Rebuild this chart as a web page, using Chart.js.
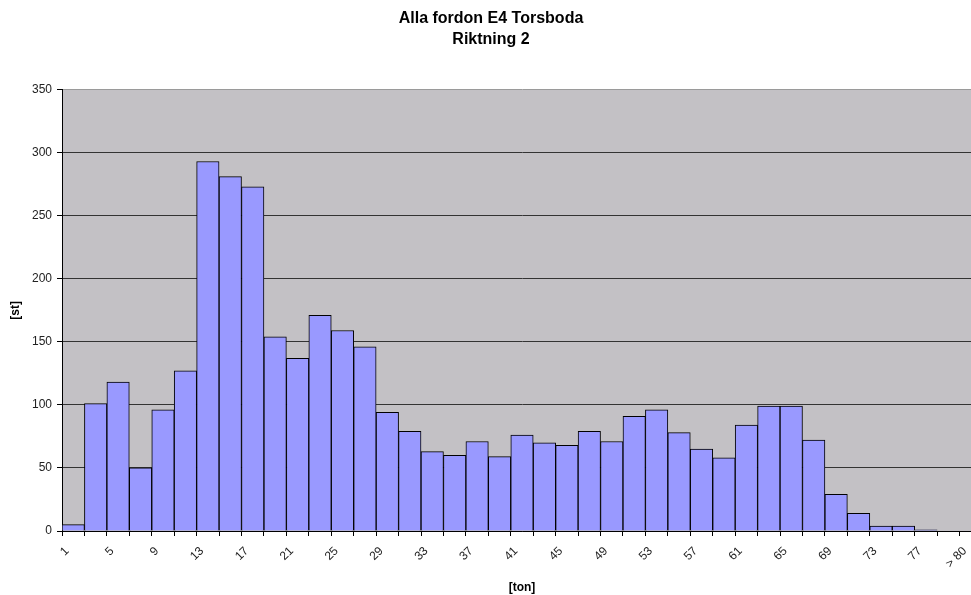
<!DOCTYPE html>
<html>
<head>
<meta charset="utf-8">
<title>Alla fordon E4 Torsboda</title>
<script src="https://cdn.jsdelivr.net/npm/chart.js@4/dist/chart.umd.min.js"></script>
<style>
    html, body { margin: 0; padding: 0; background: #ffffff; overflow: hidden; }
    #wrap { width: 985px; height: 595px; }
</style>
</head>
<body>
<div id="wrap"><canvas id="viktChart" width="985" height="595"></canvas></div>
<script>
// viktklasser (ton), varannan etikett visas
const klasser = ['1', '3', '5', '7', '9', '11', '13', '15', '17', '19', '21', '23', '25', '27', '29',
    '31', '33', '35', '37', '39', '41', '43', '45', '47', '49', '51', '53', '55', '57', '59',
    '61', '63', '65', '67', '69', '71', '73', '75', '77', '79', '> 80'];

// antal fordon per klass [st]
const antal = [5, 101, 118, 50, 96, 127, 293, 281, 273, 154, 137, 171, 159, 146, 94,
    79, 63, 60, 71, 59, 76, 70, 68, 79, 71, 91, 96, 78, 65, 58,
    84, 99, 99, 72, 29, 14, 4, 4, 1, 0, 0];

const titelRader = ['Alla fordon E4 Torsboda', 'Riktning 2'];
const yTitel = '[st]';
const xTitel = '[ton]';

// grå bakgrund i diagramytan
const plotBakgrund = {
    id: 'plotBakgrund',
    beforeDraw(chart) {
        const { ctx, chartArea } = chart;
        ctx.save();
        ctx.fillStyle = '#c3c1c5';
        ctx.fillRect(chartArea.left, chartArea.top, chartArea.right - chartArea.left, chartArea.bottom - chartArea.top);
        ctx.restore();
    }
};

new Chart(document.getElementById('viktChart').getContext('2d'), {
    type: 'bar',
    data: {
        labels: klasser,
        datasets: [{
            label: 'Antal',
            data: antal,
            backgroundColor: '#9999ff',
            borderColor: '#000000',
            borderWidth: 1,
            barPercentage: 1,
            categoryPercentage: 1
        }]
    },
    options: {
        responsive: false,
        animation: false,
        layout: { padding: { left: 0, right: 3, top: 0, bottom: 0 } },
        plugins: {
            legend: { display: false },
            tooltip: { enabled: false },
            title: {
                display: true,
                text: titelRader,
                color: '#000000',
                font: { family: 'Liberation Sans', size: 16, weight: 'bold', lineHeight: 1.3 },
                padding: { top: 8, bottom: 40 }
            }
        },
        scales: {
            x: {
                afterFit: (scale) => {
                    scale.height = 64;
                    scale.paddingLeft = 0;
                    scale.paddingRight = 0;
                },
                grid: {
                    offset: true,
                    drawOnChartArea: false,
                    color: '#000000',
                    tickLength: 5
                },
                border: { color: '#000000', width: 1 },
                ticks: {
                    autoSkip: false,
                    minRotation: 45,
                    maxRotation: 45,
                    padding: 8,
                    labelOffset: -6,
                    color: '#222222',
                    font: { family: 'Liberation Sans', size: 12 },
                    callback: (value, index) => (index % 2 === 0 ? klasser[index] : '')
                },
                title: {
                    display: true,
                    text: xTitel,
                    color: '#000000',
                    font: { family: 'Liberation Sans', size: 12, weight: 'bold' },
                    padding: { top: 0, bottom: 0 }
                }
            },
            y: {
                min: 0,
                max: 350,
                afterFit: (scale) => { scale.width = 62; },
                grid: {
                    color: (ctx) => (ctx.tick && ctx.tick.value === 350 ? '#9a9a9a' : '#333333'),
                    tickColor: '#000000',
                    tickLength: 5
                },
                border: { color: '#000000', width: 1 },
                ticks: {
                    stepSize: 50,
                    padding: 5,
                    color: '#222222',
                    font: { family: 'Liberation Sans', size: 12 }
                },
                title: {
                    display: true,
                    text: yTitel,
                    color: '#000000',
                    font: { family: 'Liberation Sans', size: 12, weight: 'bold' },
                    padding: { top: 8, bottom: 0 }
                }
            }
        }
    },
    plugins: [plotBakgrund]
});
</script>
</body>
</html>
